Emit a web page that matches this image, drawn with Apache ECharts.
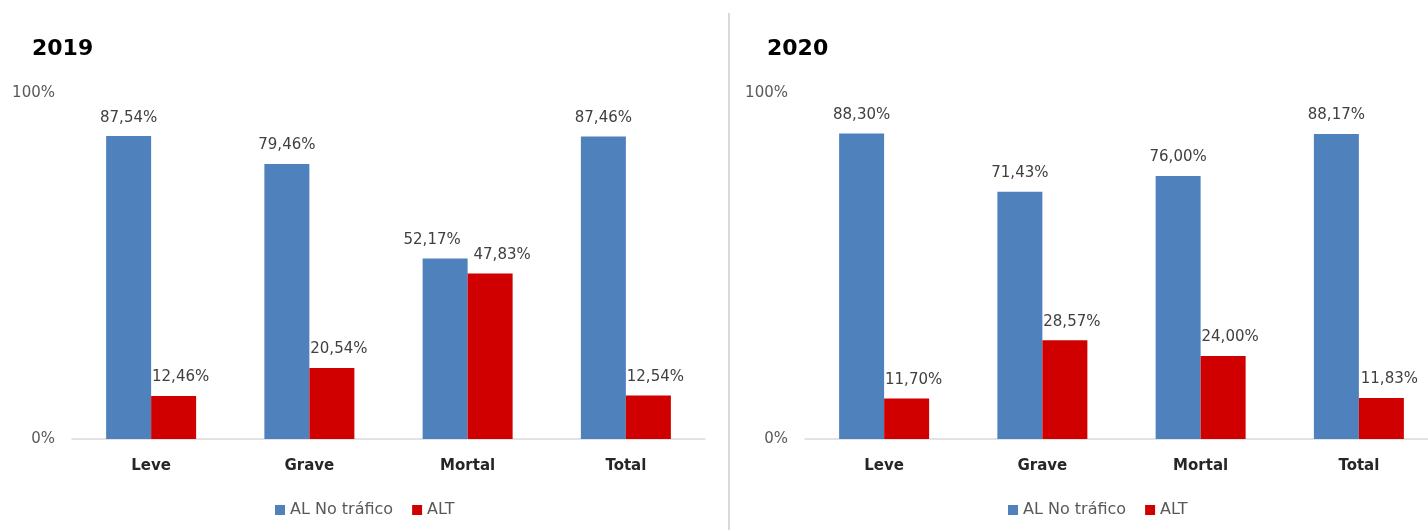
<!DOCTYPE html>
<html>
<head>
<meta charset="utf-8">
<script src="https://cdn.jsdelivr.net/npm/echarts@6/dist/echarts.min.js"></script>
<style>
  html, body { margin: 0; padding: 0; background: #fff; overflow: hidden; }
  .wrap { position: relative; width: 1428px; height: 530px; overflow: hidden; }
  #chart2019 { position: absolute; left: 0; top: 0; width: 728px; height: 530px; }
  #chart2020 { position: absolute; left: 731px; top: 0; width: 720px; height: 530px; }
  .divider { position: absolute; left: 728px; top: 13px; width: 2px; height: 517px; background: #d9d9d9; }
</style>
</head>
<body>
<div class="wrap">
  <div id="chart2019"></div>
  <div class="divider"></div>
  <div id="chart2020"></div>
</div>
<script>
const categories = ['Leve', 'Grave', 'Mortal', 'Total']
const seriesNames = ['AL No tráfico', 'ALT']
const noTrafico2019 = [87.54, 79.46, 52.17, 87.46]
const alt2019 = [12.46, 20.54, 47.83, 12.54]
const noTrafico2020 = [88.30, 71.43, 76.00, 88.17]
const alt2020 = [11.70, 28.57, 24.00, 11.83]

const BLUE = '#4F81BD'
const RED = '#D00000'
const FONT = 'DejaVu Sans'

function fmt(v) {
  return v.toFixed(2).replace('.', ',') + '%'
}

// label shifts (Excel nudges them)
function barSeries(name, values, color, shifts) {
  return {
    type: 'bar',
    name: name,
    barWidth: 45,
    barGap: '0%',
    itemStyle: { color: color },
    label: {
      show: true,
      position: 'top',
      distance: 11,
      color: '#404040',
      fontFamily: FONT,
      fontSize: 15,
      formatter: p => fmt(p.value),
    },
    data: values.map((v, i) => ({
      value: v,
      label: { offset: [shifts[i], 0] },
    })),
  }
}

function buildOption(title, titleLeft, gridLeft, legendLeft, blueVals, redVals, blueShift, redShift) {
  return {
    animation: false,
    backgroundColor: '#fff',
    title: {
      text: title,
      left: titleLeft,
      top: 33,
      textStyle: { fontFamily: FONT, fontSize: 22, fontWeight: 'bold', color: '#000' },
    },
    legend: {
      data: seriesNames,
      left: legendLeft,
      top: 502,
      padding: 0,
      icon: 'rect',
      itemWidth: 10,
      itemHeight: 10,
      itemGap: 19,
      textStyle: { fontFamily: FONT, fontSize: 16, color: '#595959' },
    },
    grid: { left: gridLeft, top: 93, width: 633, height: 346 },
    xAxis: {
      type: 'category',
      data: categories,
      axisLine: { lineStyle: { color: '#D9D9D9', width: 1.5 } },
      axisTick: { show: false },
      axisLabel: {
        margin: 20,
        fontFamily: FONT,
        fontSize: 15,
        fontWeight: 'bold',
        color: '#262626',
      },
    },
    yAxis: {
      type: 'value',
      min: 0,
      max: 100,
      interval: 100,
      axisLine: { show: false },
      axisTick: { show: false },
      splitLine: { show: false },
      axisLabel: {
        margin: 17,
        fontFamily: FONT,
        fontSize: 15,
        color: '#595959',
        formatter: '{value}%',
      },
    },
    series: [
      barSeries(seriesNames[0], blueVals, BLUE, blueShift),
      barSeries(seriesNames[1], redVals, RED, redShift),
    ],
  }
}

const left = echarts.init(document.getElementById('chart2019'))
left.setOption(buildOption('2019', 27, 72, 275,
  noTrafico2019, alt2019, [0, 0, -13, 0], [7, 7, 12, 7]))

const right = echarts.init(document.getElementById('chart2020'))
right.setOption(buildOption('2020', 31, 74, 277,
  noTrafico2020, alt2020, [0, 0, 0, 0], [7, 7, 7, 8]))
</script>
</body>
</html>
